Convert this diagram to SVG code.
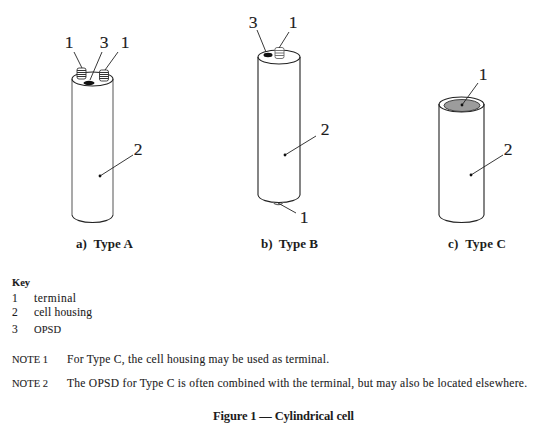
<svg xmlns="http://www.w3.org/2000/svg" width="546" height="428" viewBox="0 0 546 428">
<style>
text{font-family:"Liberation Serif","DejaVu Serif",serif;fill:#1c1c1c}
.n{font-size:17.500px;text-anchor:middle;stroke:#1c1c1c;stroke-width:.15}
.k{font-size:11.500px;stroke:#1c1c1c;stroke-width:.1}
.m{font-size:10.500px;stroke:#1c1c1c;stroke-width:.1}
.b{font-weight:bold}
.c{font-size:13px;font-weight:bold}
.f{font-size:12.500px;font-weight:bold}
.s{fill:none;stroke:#222;stroke-width:1.100}
.a{fill:none;stroke:#7c7c7c;stroke-width:1.300}
.l{stroke:#222;stroke-width:.9;fill:none}
.t{fill:#fff;stroke:#333;stroke-width:.9}
.h{stroke:#333;stroke-width:1}
.g{fill:#fff;stroke:#666;stroke-width:.9}
.i{stroke:#666;stroke-width:.9}
</style>
<rect width="546" height="428" fill="#fff"/>
<g id="cell-a">
<path class="a" d="M72 79V215M113 79V215"/>
<path class="s" d="M72 215C74 225 111 225 113 215"/>
<ellipse class="s" cx="92.500" cy="79" rx="20.500" ry="7"/>
</g>
<g id="terminal-a1"><rect class="t" x="77" y="68" width="9" height="11" rx="2"/><path class="h" d="M77 70.500h9M77 72.500h9M77 74.500h9M77 76.500h9"/></g>
<g id="terminal-a2"><rect class="t" x="99.500" y="70" width="9" height="11" rx="2"/><path class="h" d="M99.500 72.500h9M99.500 74.500h9M99.500 76.500h9M99.500 78.500h9"/></g>
<g id="opsd-a"><ellipse cx="89" cy="83" rx="5.500" ry="2.200" fill="#111"/></g>
<g id="cell-b">
<path class="s" d="M258 57V195M300 57V195M258 195C260 205 298 205 300 195"/>
<ellipse class="s" cx="279" cy="57" rx="21" ry="7"/>
</g>
<g id="terminal-b"><rect class="g" x="275" y="47.500" width="9" height="11" rx="2"/><path class="i" d="M275 50.500h9M275 53h9M275 55.500h9"/></g>
<g id="opsd-b"><ellipse cx="268" cy="55" rx="4.500" ry="2.200" fill="#111"/></g>
<g id="terminal-b2"><path class="s" d="M273.500 202C274.500 205.500 282 205.500 283 202" style="stroke:#666"/></g>
<g id="cell-c">
<path class="s" d="M439 104V215M484 104V215M439 215C441 225 482 225 484 215"/>
<ellipse class="s" cx="461.500" cy="104.500" rx="22.500" ry="7.500"/>
<ellipse cx="462" cy="105.500" rx="18" ry="6" fill="#9c9c9c" stroke="#333" stroke-width=".9"/>
</g>
<g id="connectors">
<path class="l" d="M74 52L82 68M102 52L90 80M118 52L105 70M257 30L266 52M289 32L279 48"/>
<path class="l" d="M100 176L133 155M285 155L316 136M278 203L296 213M471 175L503 155M462 105L478 83"/>
<circle cx="100" cy="176" r="1.400" fill="#111"/><circle cx="285" cy="155" r="1.400" fill="#111"/><circle cx="471" cy="175" r="1.400" fill="#111"/><circle cx="462" cy="105" r="1.400" fill="#111"/>
</g>
<g id="labels">
<text class="n" x="69" y="48">1</text><text class="n" x="104" y="48">3</text><text class="n" x="125" y="48">1</text>
<text class="n" x="138" y="155">2</text>
<text class="n" x="253" y="28">3</text><text class="n" x="293" y="28">1</text>
<text class="n" x="325" y="135">2</text><text class="n" x="304" y="223">1</text>
<text class="n" x="483" y="80">1</text><text class="n" x="508" y="155">2</text>
<text class="c" x="76" y="248" xml:space="preserve" textLength="57" lengthAdjust="spacing">a)  Type A</text>
<text class="c" x="261" y="248" xml:space="preserve" textLength="57" lengthAdjust="spacing">b)  Type B</text>
<text class="c" x="448" y="248" xml:space="preserve" textLength="58" lengthAdjust="spacing">c)  Type C</text>
<text class="m b" x="12" y="286" textLength="18">Key</text>
<text class="k" x="12" y="302">1</text><text class="k" x="34" y="302" textLength="42">terminal</text>
<text class="k" x="12" y="316">2</text><text class="k" x="34" y="316" textLength="58">cell housing</text>
<text class="k" x="12" y="333">3</text><text class="m" x="34" y="333" textLength="27">OPSD</text>
<text class="m" x="12" y="363" textLength="36">NOTE 1</text><text class="k" x="67" y="363" textLength="262">For Type C, the cell housing may be used as terminal.</text>
<text class="m" x="12" y="387" textLength="36">NOTE 2</text><text class="k" x="67" y="387" textLength="460">The OPSD for Type C is often combined with the terminal, but may also be located elsewhere.</text>
<text class="f" x="213" y="420" textLength="141">Figure 1 — Cylindrical cell</text>
</g>
</svg>
